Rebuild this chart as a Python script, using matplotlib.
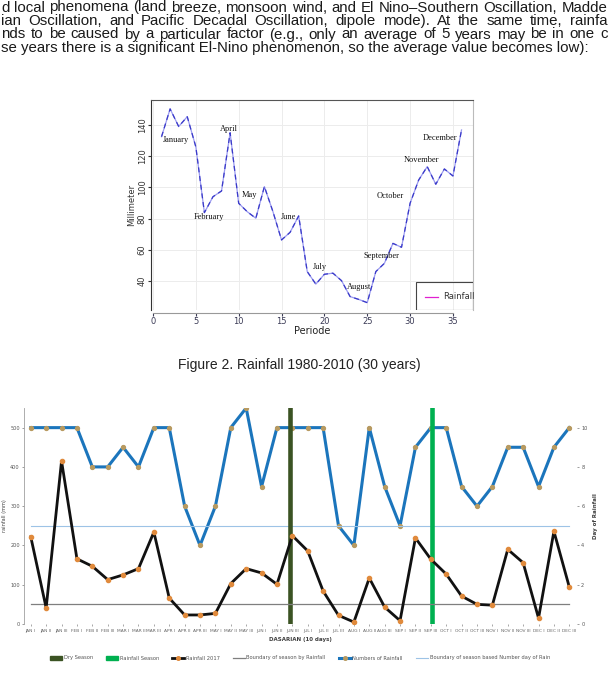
import matplotlib
matplotlib.use("Agg")
import matplotlib.pyplot as plt
from matplotlib.lines import Line2D
from matplotlib.patches import Patch, Rectangle

W, H = 609, 675

# --- texte du document ---
lignes_texte = [
    "d local phenomena (land breeze, monsoon wind, and El Nino\u2013Southern Oscillation, Madde",
    "ian Oscillation, and Pacific Decadal Oscillation, dipole mode). At the same time, rainfa",
    "nds to be caused by a particular factor (e.g., only an average of 5 years may be in one c",
    "se years there is a significant El-Nino phenomenon, so the average value becomes low):",
]
justifiee = [True, True, True, False]
legende_fig2 = "Figure 2. Rainfall 1980-2010 (30 years)"

# --- figure 2 : pluie moyenne 1980-2010 ---
periode = list(range(1, 37))
pluie_moy = [132.5, 150.3, 139, 145.3, 126, 83.8, 94, 97.7, 135, 89.8, 84.4, 80.2,
             100.5, 84.4, 66.3, 71.2, 81.7, 46, 38, 44.3, 45, 40.2, 30, 28.2,
             26.1, 46, 51.3, 64.1, 61.6, 89.8, 104.7, 113.3, 102, 111.8, 107.3, 136.8]
mois = ["January", "February", "April", "May", "June", "July", "August",
        "September", "October", "November", "December"]
mois_x = [2.65, 6.55, 8.9, 11.2, 15.8, 19.5, 24.0, 26.7, 27.7, 31.3, 33.5]
mois_y = [130.4, 80.8, 137.4, 95.1, 81.0, 49.2, 36.4, 56.0, 94.5, 117.6, 131.5]

# --- graphique 2017 par dasarian ---
noms_mois = ["JAN", "FEB", "MAR", "APR", "MAY", "JUN", "JUL", "AUG", "SEP", "OCT", "NOV", "DEC"]
dasarian = [m + " " + r for m in noms_mois for r in ["I", "II", "III"]]
pluie_2017 = [222, 41, 415, 166, 147, 113, 125, 141, 234, 66, 23, 23,
              27, 103, 141, 130, 101, 225, 186, 84, 22, 5, 117, 43,
              8.5, 219, 165, 127, 71, 50, 48, 190, 156, 15, 236, 94]
jours_pluie = [10, 10, 10, 10, 8, 8, 9, 8, 10, 10, 6, 4,
               6, 10, 11, 7, 10, 10, 10, 10, 5, 4, 10, 7,
               5, 9, 10, 10, 7, 6, 7, 9, 9, 7, 9, 10]
debut_sec = 16.85
debut_pluie = 26.1
seuil_pluie = 50
seuil_jours = 5

fig = plt.figure(figsize=(W / 100, H / 100), dpi=100)
rend = fig.canvas.get_renderer()

# texte justifié, mot par mot
for i, (ligne, just) in enumerate(zip(lignes_texte, justifiee)):
    y = 1 - (7.5 + 13.5 * i) / H
    if not just:
        fig.text(1 / W, y, ligne, fontsize=10.8, family="Liberation Sans",
                 color="#1a1a1a", va="center", ha="left")
        continue
    mots = ligne.split(" ")
    textes = [fig.text(0, y, m, fontsize=10.8, family="Liberation Sans",
                       color="#1a1a1a", va="center", ha="left") for m in mots]
    larg = [t.get_window_extent(rend).width for t in textes]
    x0, x1 = 1.0, 607.5
    ecart = (x1 - x0 - sum(larg)) / (len(mots) - 1)
    x = x0
    for t, l in zip(textes, larg):
        t.set_x(x / W)
        x += l + ecart

fig.text(299 / W, 1 - 365 / H, legende_fig2, fontsize=10, family="Liberation Sans",
         color="#222222", ha="center", va="center")

# ---------- figure 2 ----------
ax = fig.add_axes([151 / W, 1 - 310 / H, 322 / W, 210 / H])
ax.set_xlim(-0.23, 37.34)
ax.set_ylim(21.4, 156)
ax.grid(True, color="#ececec", lw=0.7)
ax.set_axisbelow(True)
ax.plot(periode, pluie_moy, color="#9a9af0", lw=0.9)
ax.plot(periode, pluie_moy, color="#3a3ac8", lw=0.9, ls=(0, (4, 3)))
for nom, x, y in zip(mois, mois_x, mois_y):
    ax.text(x, y, nom, fontsize=6, family="Liberation Serif", ha="center", va="center",
            color="#111111")
ax.set_xticks(range(0, 36, 5))
ax.set_yticks(range(40, 141, 20))
ax.tick_params(axis="x", labelsize=6, colors="#3a3a55", length=2, pad=1)
ax.tick_params(axis="y", labelsize=6, colors="#333333", length=2, pad=1)
for lab in ax.get_yticklabels():
    lab.set_rotation(90)
    lab.set_va("center")
ax.spines["left"].set_color("#333333")
ax.spines["top"].set_color("#555555")
ax.spines["right"].set_color("#bbbbbb")
ax.spines["bottom"].set_bounds(0, 35)
ax.spines["bottom"].set_position(("outward", 2))
ax.spines["bottom"].set_color("#999999")
ax.set_xlabel("Periode", fontsize=7, labelpad=0, color="#222222")
ax.set_ylabel("Millimeter", fontsize=6, labelpad=1, color="#333333")
# boîte de légende façon R
ax.add_patch(Rectangle((416, 675 - 310), 57, 28, transform=None, fill=False,
                       ec="#444444", lw=0.8, zorder=5))
ax.add_line(Line2D([425 / W, 438 / W], [1 - 297 / H, 1 - 297 / H], transform=fig.transFigure,
                   color="#e020d0", lw=0.9, zorder=6))
fig.text(443 / W, 1 - 297 / H, "Rainfall", fontsize=6, color="#333333", va="center")

# ---------- graphique 2017 ----------
ax2 = fig.add_axes([24 / W, 1 - 624 / H, 553 / W, 216 / H])
ax2r = ax2.twinx()
ax2.set_zorder(ax2r.get_zorder() + 1)
ax2.patch.set_visible(False)
x = list(range(len(dasarian)))

ax2r.plot(x, jours_pluie, color="#1b75bc", lw=2.2, marker="o", ms=2.8,
          mfc="#b89a60", mec="#b89a60")
ax2r.plot([0, 35], [seuil_jours, seuil_jours], color="#9dc3e6", lw=0.8)
ax2.axvline(debut_sec, color="#3b5323", lw=3.3, zorder=1)
ax2.axvline(debut_pluie, color="#00b050", lw=3.3, zorder=1)
ax2.plot([0, 35], [seuil_pluie, seuil_pluie], color="#7f7f7f", lw=0.9, zorder=2)
ax2.plot(x, pluie_2017, color="#111111", lw=2.0, marker="o", ms=3.0,
         mfc="#e08a3c", mec="#e08a3c", zorder=3)

ax2.set_xlim(-0.44, 35.5)
ax2.set_ylim(0, 550)
ax2r.set_ylim(0, 11)
ax2.set_xticks(x)
ax2.set_xticklabels(dasarian)
ax2.set_yticks(range(0, 501, 100))
ax2r.set_yticks(range(0, 11, 2))
ax2.tick_params(axis="x", labelsize=3.2, colors="#666666", length=1.5, width=0.4, pad=2)
ax2.tick_params(axis="y", labelsize=3.6, colors="#555555", length=1.5, width=0.4, pad=1.5)
ax2r.tick_params(axis="y", labelsize=3.6, colors="#555555", length=1.5, width=0.4, pad=1.5)
for a in (ax2, ax2r):
    for s in ("top", "right", "bottom"):
        a.spines[s].set_visible(False)
ax2r.spines["left"].set_visible(False)
ax2.spines["left"].set_color("#a0a0a0")
ax2.spines["left"].set_linewidth(0.6)
ax2.set_xlabel("DASARIAN (10 days)", fontsize=4, fontweight="bold", color="#404040", labelpad=3)
ax2.set_ylabel("rainfall (mm)", fontsize=3.6, color="#404040", labelpad=2)
ax2r.set_ylabel("Day of Rainfall", fontsize=4, fontweight="bold", color="#404040", labelpad=4)

poignees = [
    Patch(color="#3b5323", label="Dry Season"),
    Patch(color="#00b050", label="Rainfall Season"),
    Line2D([], [], color="#111111", lw=2.0, marker="o", ms=2.6, mfc="#e08a3c",
           mec="#e08a3c", label="Rainfall 2017"),
    Line2D([], [], color="#7f7f7f", lw=0.9, label="Boundary of season by Rainfall"),
    Line2D([], [], color="#1b75bc", lw=2.2, marker="o", ms=2.6, mfc="#b89a60",
           mec="#b89a60", label="Numbers of Rainfall"),
    Line2D([], [], color="#9dc3e6", lw=0.8, label="Boundary of season based Number day of Rain"),
]
fig.legend(handles=poignees, loc="center", bbox_to_anchor=(300 / W, 1 - 658 / H), ncol=6,
           fontsize=3.7, frameon=False, handlelength=2.4, handleheight=0.7,
           columnspacing=2.5, handletextpad=0.3, labelcolor="#555555")

fig.savefig("out.png", dpi=100)
